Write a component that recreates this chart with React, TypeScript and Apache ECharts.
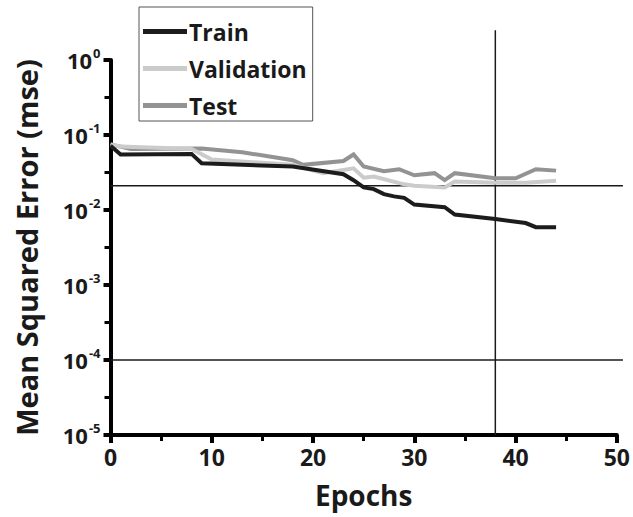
import React, { useEffect, useRef } from 'react';
import * as echarts from 'echarts';

const trainEpochs = [0, 1, 8, 9, 18, 23, 24, 25, 26, 27, 28, 29, 30, 33, 34, 38, 41, 42, 44];
const trainMse = [0.072, 0.055, 0.056, 0.042, 0.038, 0.030, 0.025, 0.020, 0.019, 0.0163, 0.0152, 0.0145, 0.0118, 0.0109, 0.0087, 0.0076, 0.0067, 0.0059, 0.0059];

const valEpochs = [0, 1, 8, 10, 18, 21, 24, 25, 26, 29, 30, 33, 34, 38, 41, 44];
const valMse = [0.075, 0.070, 0.065, 0.047, 0.040, 0.031, 0.036, 0.027, 0.028, 0.022, 0.021, 0.020, 0.024, 0.023, 0.023, 0.0245];

const testEpochs = [0, 2, 9, 13, 18, 19, 23, 24, 25, 27, 28.5, 30, 32, 33, 34, 38, 40, 42, 44];
const testMse = [0.075, 0.065, 0.066, 0.059, 0.046, 0.040, 0.045, 0.055, 0.038, 0.033, 0.035, 0.029, 0.031, 0.025, 0.031, 0.0265, 0.0265, 0.035, 0.0335];

const seriesNames = ['Train', 'Validation', 'Test'];
const seriesColors = ['#1c1c1c', '#cbcbcb', '#939393'];

const stopEpoch = 38;
const bestMse = 0.021;
const goalMse = 1e-4;

const FONT = '"Open Sans", "DejaVu Sans", sans-serif';
const INK = '#1a1a1a';
const hiddenSplit = { show: true, lineStyle: { color: 'rgba(0,0,0,0)', width: 0 } };

function pairs(xs: number[], ys: number[]) {
  return xs.map((x, i) => [x, ys[i]]);
}

export default function App() {
  const ref = useRef<HTMLDivElement>(null);
  useEffect(() => {
    const chart = echarts.init(ref.current!, null, { renderer: 'svg' });
    const datasets = [pairs(trainEpochs, trainMse), pairs(valEpochs, valMse), pairs(testEpochs, testMse)];
    chart.setOption({
      animation: false,
      backgroundColor: '#fff',
      grid: { left: 110.5, right: 14, top: 60, bottom: 82 },
      legend: {
        orient: 'vertical',
        left: 139,
        top: 7,
        data: seriesNames,
        icon: 'rect',
        itemWidth: 44,
        itemHeight: 5,
        itemGap: 14,
        padding: [13, 6, 4, 4],
        borderColor: '#555',
        borderWidth: 1,
        backgroundColor: '#fff',
        z: 10,
        textStyle: { fontFamily: FONT, fontWeight: 'bold', fontSize: 23, color: INK, padding: [0, 0, 0, -3] },
      },
      xAxis: {
        type: 'value',
        min: 0,
        max: 50,
        interval: 10,
        name: 'Epochs',
        nameLocation: 'middle',
        nameGap: 46,
        nameTextStyle: { fontFamily: FONT, fontWeight: 'bold', fontSize: 28, color: INK },
        axisLine: { show: true, onZero: false, lineStyle: { color: '#000', width: 4 } },
        axisTick: { show: true, length: 8, lineStyle: { color: '#000', width: 4 } },
        minorTick: { show: true, splitNumber: 2, length: 6, lineStyle: { color: '#000', width: 3 } },
        splitLine: hiddenSplit,
        axisLabel: { fontFamily: FONT, fontWeight: 'bold', fontSize: 23, color: INK, margin: 10 },
      },
      yAxis: [
        {
          type: 'log',
          logBase: 10,
          min: 1e-5,
          max: 1,
          position: 'left',
          name: 'Mean Squared Error (mse)',
          nameLocation: 'middle',
          nameGap: 70,
          nameTextStyle: { fontFamily: FONT, fontWeight: 'bold', fontSize: 29, color: INK },
          axisLine: { show: true, onZero: false, lineStyle: { color: '#000', width: 4 } },
          axisTick: { show: true, length: 7, lineStyle: { color: '#000', width: 4 } },
          splitLine: hiddenSplit,
          axisLabel: {
            margin: 10,
            formatter: (v: number) => `{b|10}{s|${Math.round(Math.log10(v))}}`,
            rich: {
              b: { fontFamily: FONT, fontWeight: 'bold', fontSize: 22, color: INK },
              s: { fontFamily: FONT, fontWeight: 'bold', fontSize: 13, color: INK, padding: [0, 0, 15, 1] },
            },
          },
        },
        {
          type: 'value',
          min: -5,
          max: 0,
          interval: 0.5,
          position: 'left',
          offset: 0,
          axisLine: { show: false, onZero: false },
          axisTick: { show: true, length: 6, lineStyle: { color: '#000', width: 3 } },
          axisLabel: { show: false },
          splitLine: hiddenSplit,
        },
      ],
      series: datasets.map((d, i) => ({
        name: seriesNames[i],
        type: 'line',
        yAxisIndex: 0,
        data: d,
        showSymbol: false,
        symbol: 'none',
        color: seriesColors[i],
        lineStyle: { width: 4, color: seriesColors[i], join: 'miter' },
        z: 3 - i + 2,
      })),
    });
    const toPx = (p: number[]) => chart.convertToPixel({ xAxisIndex: 0, yAxisIndex: 0 }, p) as number[];
    const v0 = toPx([stopEpoch, 2.5]);
    const v1 = toPx([stopEpoch, 1e-5]);
    const h0 = toPx([0, bestMse]);
    const h1 = toPx([50.6, bestMse]);
    const g0 = toPx([0, goalMse]);
    const g1 = toPx([50.6, goalMse]);
    const ls = { stroke: INK, lineWidth: 1.5 };
    chart.setOption({
      graphic: [
        { type: 'line', shape: { x1: v0[0], y1: v0[1], x2: v1[0], y2: v1[1] }, style: ls, z: 1 },
        { type: 'line', shape: { x1: h0[0], y1: h0[1], x2: h1[0], y2: h1[1] }, style: ls, z: 1 },
        { type: 'line', shape: { x1: g0[0], y1: g0[1], x2: g1[0], y2: g1[1] }, style: ls, z: 1 },
      ],
    });
    return () => chart.dispose();
  }, []);
  return (
    <div
      ref={ref}
      style={{ position: 'fixed', left: 0, top: 0, width: 633, height: 517, background: '#fff' }}
    />
  );
}
